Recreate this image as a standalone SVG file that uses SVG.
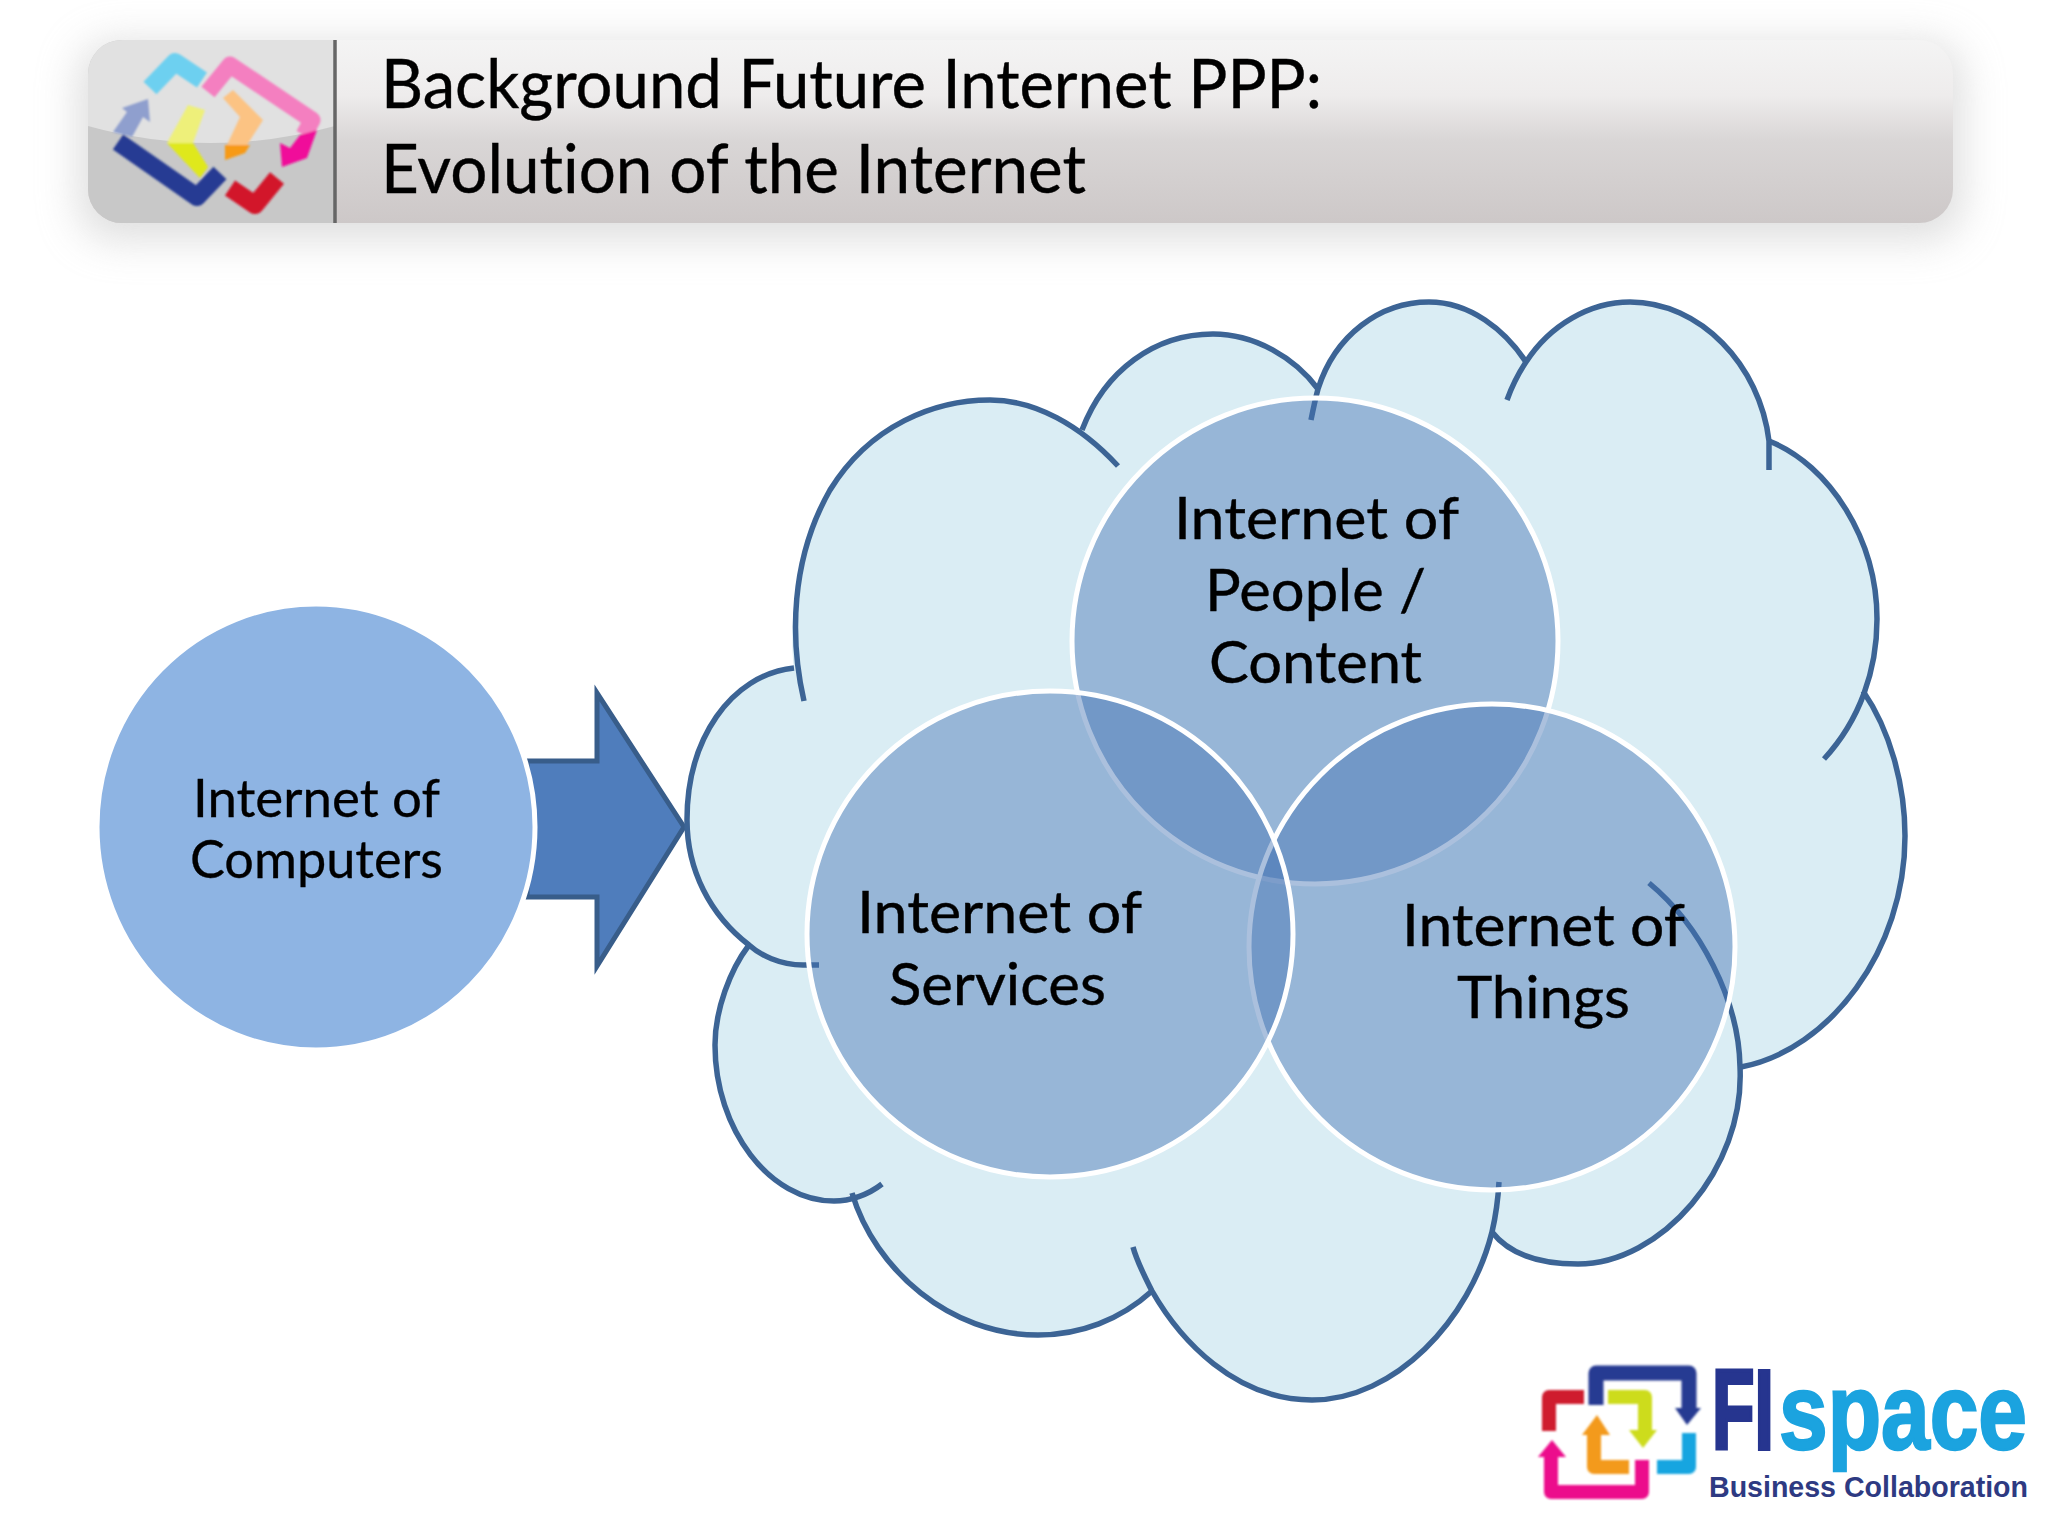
<svg xmlns="http://www.w3.org/2000/svg" width="2048" height="1536" viewBox="0 0 2048 1536">
<style>
text{font-family:"Lato","Open Sans",sans-serif;fill:#000;font-variant-ligatures:none}
.t{font-size:67px;stroke:#000;stroke-width:.4}
.l{font-size:59px;stroke:#000;stroke-width:.4}
.m{font-size:52px;stroke:#000;stroke-width:.3}
.c{fill:none;stroke:#3c6495;stroke-width:5.5}
.v{fill:#4474b4;fill-opacity:.45;stroke:#fff;stroke-width:5}
.g{fill:none;stroke-linejoin:round}
.fs{font-family:"Liberation Sans",Arial,sans-serif;font-weight:bold}
</style>
<defs>
<linearGradient id="hdr" x1="0" y1="0" x2="0" y2="1">
<stop offset="0" stop-color="#f4f4f4"/><stop offset=".3" stop-color="#eeecec"/><stop offset=".55" stop-color="#d9d6d6"/><stop offset="1" stop-color="#cdc8c8"/>
</linearGradient>
<filter id="blur" x="-5%" y="-50%" width="110%" height="200%"><feGaussianBlur stdDeviation="20"/></filter>
<filter id="soft" x="-10%" y="-10%" width="120%" height="120%"><feGaussianBlur stdDeviation=".8"/></filter>
</defs>
<rect width="2048" height="1536" fill="#fff"/>

<g id="header">
<rect x="78" y="42" width="1885" height="198" rx="36" fill="#c4c4c4" opacity=".55" filter="url(#blur)"/>
<rect x="88" y="40" width="1865" height="183" rx="34" fill="url(#hdr)"/>
<path d="M122,40H335V223H122A34,34 0 0 1 88,189V74A34,34 0 0 1 122,40Z" fill="#c8c8c8"/>
<path d="M122,40H335V126Q210,160 88,126V74A34,34 0 0 1 122,40Z" fill="#e1e1e1"/>
<path d="M335,40V223" stroke="#666" stroke-width="3.5"/>
<g id="header-logo" class="g" filter="url(#soft)">
<path d="M150,88L175,62L202,80" stroke="#6dd0f0" stroke-width="18"/>
<path d="M208,92L230,65L312,120L304,135" stroke="#f47fc0" stroke-width="17"/>
<polygon points="317,130 307,158 282,167 280,143 290,148 300,135" fill="#f0119a"/>
<polygon points="223,98 233,90 263,120 247,145 227,145 240,117" fill="#fcc383"/>
<polygon points="225,145 250,145 245,153 225,160" fill="#f79a12"/>
<polygon points="188,105 205,110 193,143 167,143" fill="#eef07a"/>
<polygon points="167,143 193,143 208,167 200,178" fill="#dfe81a"/>
<polygon points="113,132 127,112 122,108 148,99 150,122 143,117 132,137" fill="#8f9fce"/>
<path d="M118,142L197,197L220,173" stroke="#253a93" stroke-width="18"/>
<path d="M230,188L255,205L277,178" stroke="#d2142c" stroke-width="18"/>
</g>
<text class="t" x="381" y="108" textLength="941" lengthAdjust="spacingAndGlyphs">Background Future Internet PPP:</text>
<text class="t" x="381" y="193" textLength="705" lengthAdjust="spacingAndGlyphs">Evolution of the Internet</text>
</g>

<g id="connectors">
<polygon points="527,761 597,761 597,693 684,827 597,966 597,897 527,897" fill="#4f7dbc" stroke="#385d8a" stroke-width="5"/>
</g>

<g id="cloud">
<path fill="#daedf4" d="M794,668C790,640 790,560 830,490C870,425 935,400 990,400C1022,400 1055,412 1081,430C1105,370 1155,334 1213,334C1255,334 1295,358 1318,389C1335,335 1380,302 1429,302C1470,302 1505,330 1526,362C1550,325 1590,302 1630,302C1700,302 1760,365 1769,441C1830,465 1877,540 1877,619C1877,645 1872,670 1863,691C1890,730 1905,785 1905,836C1905,950 1830,1050 1741,1067C1745,1170 1660,1264 1578,1264C1540,1264 1510,1255 1492,1232C1470,1320 1395,1400 1312,1400C1235,1400 1180,1340 1152,1291C1120,1320 1080,1335 1038,1335C950,1335 875,1270 852,1194C845,1198 840,1201 834,1201C770,1201 715,1130 715,1045C715,1010 730,970 749,945C710,915 687,870 687,820C687,740 730,675 794,668Z"/>
<path class="c" d="M804,701C790,640 790,560 830,490C870,425 935,400 990,400C1035,400 1080,425 1118,466"/>
<path class="c" d="M1082,430C1105,370 1155,334 1213,334C1255,334 1295,358 1318,389"/>
<path class="c" d="M1311,420C1313,410 1315,400 1318,389C1335,335 1380,302 1429,302C1470,302 1505,330 1526,362"/>
<path class="c" d="M1507,400C1512,386 1518,374 1526,362C1550,325 1590,302 1630,302C1700,302 1760,365 1769,441L1769,470"/>
<path class="c" d="M1769,441C1830,465 1877,540 1877,619C1877,670 1860,720 1824,759"/>
<path class="c" d="M1863,691C1890,730 1905,785 1905,836C1905,950 1830,1050 1741,1067"/>
<path class="c" d="M1649,883C1700,925 1739,1000 1740,1067C1745,1170 1660,1264 1578,1264C1540,1264 1510,1255 1492,1232"/>
<path class="c" d="M1499,1182C1498,1200 1496,1215 1492,1232C1470,1320 1395,1400 1312,1400C1235,1400 1180,1340 1152,1291C1144,1275 1137,1262 1133,1247"/>
<path class="c" d="M1152,1291C1120,1320 1080,1335 1038,1335C950,1335 875,1270 852,1193"/>
<path class="c" d="M882,1184C868,1195 850,1201 834,1201C770,1201 715,1130 715,1045C715,1010 730,970 749,945"/>
<path class="c" d="M819,965L803,965C780,965 760,955 749,945C710,915 687,870 687,820C687,740 730,675 794,668"/>
</g>

<g id="computers">
<ellipse cx="316" cy="827" rx="219" ry="223" fill="#8eb4e3" stroke="#fff" stroke-width="5"/>
<text class="m" x="193" y="817" textLength="247" lengthAdjust="spacingAndGlyphs">Internet of</text>
<text class="m" x="190" y="878" textLength="253" lengthAdjust="spacingAndGlyphs">Computers</text>
</g>
<g id="people">
<circle class="v" cx="1315" cy="641" r="243"/>
<text class="l" x="1174" y="539" textLength="285" lengthAdjust="spacingAndGlyphs">Internet of</text>
<text class="l" x="1205" y="611" textLength="221" lengthAdjust="spacingAndGlyphs">People /</text>
<text class="l" x="1209" y="683" textLength="213" lengthAdjust="spacingAndGlyphs">Content</text>
</g>
<g id="things">
<circle class="v" cx="1492" cy="947" r="243"/>
<text class="l" x="1402" y="946" textLength="283" lengthAdjust="spacingAndGlyphs">Internet of</text>
<text class="l" x="1457" y="1018" textLength="173" lengthAdjust="spacingAndGlyphs">Things</text>
</g>
<g id="services">
<circle class="v" cx="1050" cy="934" r="243"/>
<text class="l" x="857" y="933" textLength="285" lengthAdjust="spacingAndGlyphs">Internet of</text>
<text class="l" x="889" y="1005" textLength="217" lengthAdjust="spacingAndGlyphs">Services</text>
</g>

<g id="fispace-logo">
<g class="g" filter="url(#soft)">
<path d="M1596,1405V1373H1689V1408" stroke="#263a92" stroke-width="15"/>
<polygon points="1675,1408 1701,1408 1687,1425" fill="#263a92"/>
<path d="M1584,1397H1549V1431" stroke="#cf1b2e" stroke-width="14"/>
<path d="M1608,1397H1645V1430" stroke="#cddc1e" stroke-width="14"/>
<polygon points="1629,1430 1657,1430 1643,1448" fill="#cddc1e"/>
<path d="M1594,1435V1467H1629" stroke="#f39a1e" stroke-width="14"/>
<polygon points="1582,1435 1610,1435 1597,1415" fill="#f39a1e"/>
<path d="M1642,1460V1492H1551V1457" stroke="#ec0f8c" stroke-width="14"/>
<polygon points="1538,1457 1566,1457 1552,1440" fill="#ec0f8c"/>
<path d="M1689,1433V1467H1657" stroke="#16a5e0" stroke-width="14"/>
</g>
<text class="fs" transform="translate(1712,1449) scale(.61,1)" font-size="114" style="fill:#26358f;stroke:#26358f;stroke-width:4">FI</text>
<text class="fs" transform="translate(1779,1449) scale(.81,1)" font-size="108" style="fill:#1ba3df;stroke:#1ba3df;stroke-width:2.5">space</text>
<text class="fs" x="1709" y="1497" font-size="29" textLength="319" lengthAdjust="spacingAndGlyphs" style="fill:#2e3a82">Business Collaboration</text>
</g>
</svg>
